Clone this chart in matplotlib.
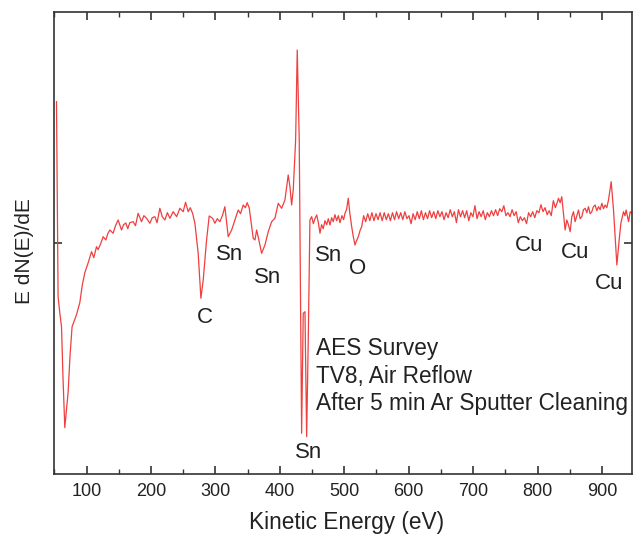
import matplotlib
matplotlib.use("Agg")
import matplotlib.pyplot as plt
from matplotlib.ticker import MultipleLocator

plt.rcParams['font.family'] = ['Liberation Sans', 'DejaVu Sans']

# AES survey spectrum (arbitrary units, 0 = the y tick)
energy_ev = [
    53.4, 54.5, 55.9, 58.5, 61.2, 63.5, 66.3, 68.8, 71.4, 74.5, 77.6, 81.0, 84.5,
    89.6, 93.5, 97.4, 102.6, 107.8, 111.3, 115.5, 118.0, 122.2, 125.8, 130.0,
    133.0, 136.2, 141.3, 145.0, 149.1, 154.3, 157.5, 161.0, 164.0, 167.2, 172.4,
    176.0, 180.1, 185.4, 189.0, 193.2, 198.3, 202.0, 206.1, 209.5, 213.8, 217.5,
    221.6, 225.5, 229.4, 234.5, 239.8, 244.9, 250.0, 253.7, 257.8, 261.0, 264.6,
    268.2, 273.3, 277.5, 281.1, 286.3, 290.4, 295.7, 299.2, 303.0, 307.0, 311.2,
    314.7, 319.9, 325.2, 330.3, 335.4, 339.0, 343.2, 346.5, 349.4, 352.5, 356.0,
    358.7, 361.4, 364.0, 367.0, 371.7, 376.9, 382.0, 387.3, 392.4, 397.5, 402.8,
    407.9, 413.0, 415.7, 418.3, 420.8, 424.5, 427.0, 430.1, 432.3, 433.8, 436.3,
    439.0, 441.6, 444.1, 446.7, 449.4, 452.0, 454.5, 457.2, 459.8, 462.3, 464.8,
    467.4, 470.0, 472.7, 475.2, 477.8, 480.4, 482.9, 485.5, 488.2, 490.8, 493.3,
    496.5, 499.0, 501.1, 503.5, 506.2, 508.5, 511.5, 514.0, 516.6, 519.0, 521.8,
    524.4, 527.0, 530.0, 533.2, 536.4, 539.6, 542.8, 546.0, 549.2, 552.4, 555.6,
    558.8, 562.0, 565.2, 568.4, 571.6, 574.8, 578.0, 581.2, 584.4, 587.6, 590.8,
    594.0, 597.2, 600.4, 603.6, 606.8, 610.0, 613.2, 616.4, 619.6, 622.8, 626.0,
    629.2, 632.4, 635.6, 638.8, 642.0, 645.2, 648.4, 651.6, 654.8, 658.0, 661.2,
    664.4, 667.6, 670.8, 674.0, 677.2, 680.4, 683.6, 686.8, 690.0, 693.2, 696.4,
    699.6, 702.8, 706.0, 709.2, 712.4, 715.6, 718.8, 722.0, 725.2, 728.4, 731.6,
    734.8, 738.0, 741.2, 744.4, 747.6, 750.8, 754.0, 757.2, 760.4, 763.6, 766.8,
    770.0, 773.2, 776.4, 779.6, 782.8, 786.0, 789.2, 792.4, 795.6, 798.8, 802.0,
    805.2, 808.4, 811.6, 814.8, 818.0, 821.2, 824.4, 827.6, 830.8, 832.4, 835.0,
    837.5, 840.1, 842.7, 845.3, 847.8, 850.5, 853.1, 855.7, 858.2, 860.8, 863.4,
    866.0, 868.6, 871.2, 873.8, 876.4, 879.0, 881.5, 884.1, 886.7, 889.3, 891.9,
    894.5, 897.1, 899.7, 902.3, 904.8, 907.4, 910.0, 914.2, 917.8, 920.4, 923.0,
    926.1, 929.2, 933.3, 935.5, 937.4, 941.1, 943.7, 946.2,
]
dnde = [
    141, 60, -54, -70, -84, -135, -185, -168, -150, -112, -84, -78, -72,
    -60, -42, -30, -20, -9, -15, -4, -7, -0.6, 6, 2.7,
    9, 12.7, 9.4, 17, 22.7, 12.7, 18, 19.7, 14, 20, 21,
    17, 29.4, 21, 27, 24.4, 19.4, 25, 26, 20, 34.4, 26,
    22.7, 30, 24.4, 31, 26, 34.4, 31, 40.4, 31, 35, 29.4,
    19.4, -10.6, -55.6, -37.3, 2.7, 26.7, 24.4, 19.4, 24, 21, 27.7,
    36, 6, 12.7, 22.7, 32.7, 29, 37.7, 35, 40, 34.7, 18,
    4.4, 2.7, 12.7, 4, -10.6, -2.3, 11, 21, 24.4, 39.4, 34.4,
    42.7, 67.7, 56, 37.7, 52.7, 102.7, 192.7, 102.7, -64, -190.6, -70.6,
    -69, -194, -97.3, 22.7, 26, 19, 24, 27.7, 20, 9.4, 18,
    14, 22, 18, 24, 17.7, 25, 21, 28, 22, 27, 20,
    27, 23, 29.4, 33, 44.4, 30, 16, 6, -2.3, 2, 6,
    12, 16, 27, 21, 29, 22, 30, 22, 29, 23, 30,
    22, 30, 23, 29, 22, 30, 23, 31, 24, 30, 23,
    31, 24, 27, 19, 29, 23, 31, 24, 32, 23, 30,
    24, 32, 25, 31, 24, 32, 26, 31, 23, 30, 25,
    33, 26, 31, 20, 33, 26, 32, 25, 32, 22, 30,
    26, 37, 24, 31, 26, 32, 23, 30, 26, 32, 27,
    33, 27, 34, 31, 37, 27, 30, 26, 33, 27, 31,
    20, 26, 22, 25, 19, 30, 26, 31, 25, 32, 30,
    38, 31, 35, 28, 32, 27, 42, 35, 41, 44.4, 40,
    46, 29.4, 12.7, 22.7, 18, 11, 26, 31, 21, 27, 32.7,
    24, 26, 33, 34.4, 30, 36, 29, 31, 36, 37.7, 32,
    36, 33, 39.4, 34, 37.7, 35, 42.7, 61, 32.7, 6, -22.3,
    -0.6, 19.4, 31, 27, 32.7, 21, 31, 29.4,
]

# peak labels: (text, energy, level)
peak_labels = ['C', 'Sn', 'Sn', 'Sn', 'O', 'Sn', 'Cu', 'Cu', 'Cu']
label_ev = [283.5, 322.5, 381.5, 476.0, 521.0, 445.0, 787.0, 858.0, 911.0]
label_y = [-75.3, -12.3, -34.8, -12.8, -26.3, -210.3, -3.3, -9.8, -41.3]

info_lines = ['AES Survey', 'TV8, Air Reflow', 'After 5 min Ar Sputter Cleaning']
info_ev = 456.0
info_y = [-106.0, -134.0, -161.0]

fig = plt.figure(figsize=(6.38, 5.41), dpi=100)
ax = fig.add_axes([0.0851, 0.1233, 0.9050, 0.8540])

ax.plot(energy_ev, dnde, color='#ef3f3f', linewidth=0.9)

for txt, xe, ye in zip(peak_labels, label_ev, label_y):
    ax.text(xe, ye, txt, fontsize=16, ha='center', va='center', color='#222222')
for txt, ye in zip(info_lines, info_y):
    ax.text(info_ev, ye, txt, fontsize=16.3, ha='left', va='center', color='#222222')

ax.set_xlim(50, 946)
ax.set_ylim(-231.6, 230.4)

ax.xaxis.set_major_locator(MultipleLocator(100))
ax.xaxis.set_minor_locator(MultipleLocator(50))
ax.set_xticks(range(100, 901, 100))
ax.set_yticks([0])
ax.set_yticklabels([])

for side in ['top', 'bottom', 'left', 'right']:
    ax.spines[side].set_color('#333333')
    ax.spines[side].set_linewidth(1.2)
ax.tick_params(axis='both', which='major', direction='in', length=6, width=1.2,
               color='#333333', top=True, right=True, labelsize=13, pad=6,
               labelcolor='#222222')
ax.tick_params(axis='x', which='minor', direction='in', length=3.5, width=1.0,
               color='#333333', top=True)

fig.text(0.5435, 1 - 523 / 541, 'Kinetic Energy (eV)', fontsize=16.3,
         ha='center', va='center', color='#222222')
fig.text(25 / 638, 1 - 251 / 541, 'E dN(E)/dE', fontsize=15, rotation=90,
         ha='center', va='center', color='#222222')

fig.savefig('out.png', dpi=100)
